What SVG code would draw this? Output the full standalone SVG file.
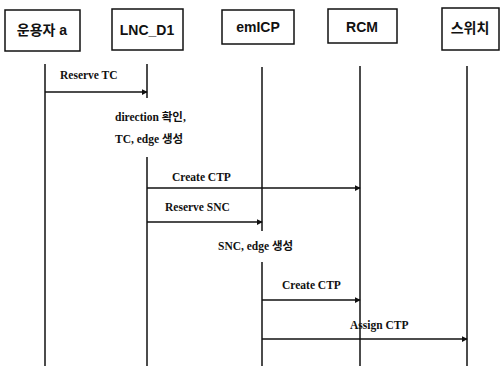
<svg xmlns="http://www.w3.org/2000/svg" width="500" height="366" viewBox="0 0 500 366">
<style>
.box{fill:#fff;stroke:#111;stroke-width:1.5}
.nt{font-family:"Liberation Sans","Noto Sans CJK KR",sans-serif;font-size:14px;font-weight:bold;fill:#111;text-anchor:middle;dominant-baseline:central}
.life{stroke:#111;stroke-width:1.5;fill:none}
.msg{stroke:#111;stroke-width:1.5;fill:none;marker-end:url(#ah)}
.lb{font-family:"Liberation Serif","Noto Sans CJK KR",serif;font-size:11.5px;font-weight:bold;fill:#111}
</style>
<defs>
<marker id="ah" viewBox="0 0 8 8" refX="7" refY="4" markerWidth="6" markerHeight="6" markerUnits="userSpaceOnUse" orient="auto">
<path d="M0,0 L8,4 L0,8 z" fill="#111"/>
</marker>
</defs>
<rect width="500" height="366" fill="#fff"/>
<g id="node-user">
<rect class="box" x="5" y="10" width="75" height="41"/>
<text class="nt" x="42" y="30">운용자 a</text>
</g>
<g id="node-lnc">
<rect class="box" x="112" y="9" width="71" height="41"/>
<text class="nt" x="147" y="30">LNC_D1</text>
</g>
<g id="node-emicp">
<rect class="box" x="222" y="10" width="72" height="34"/>
<text class="nt" x="258" y="27">emICP</text>
</g>
<g id="node-rcm">
<rect class="box" x="328" y="9" width="69" height="34"/>
<text class="nt" x="362" y="27">RCM</text>
</g>
<g id="node-switch">
<rect class="box" x="442" y="8" width="57" height="42"/>
<text class="nt" x="470" y="28">스위치</text>
</g>
<g id="connectors">
<line class="life" x1="45" y1="64" x2="45" y2="366"/>
<line class="life" x1="147" y1="64" x2="147" y2="98"/>
<line class="life" x1="147" y1="157" x2="147" y2="366"/>
<line class="life" x1="262" y1="67" x2="262" y2="231"/>
<line class="life" x1="262" y1="262" x2="262" y2="366"/>
<line class="life" x1="360" y1="66" x2="360" y2="366"/>
<line class="life" x1="467" y1="66" x2="467" y2="366"/>
<line class="msg" x1="45" y1="92" x2="147" y2="92"/>
<line class="msg" x1="147" y1="188" x2="360" y2="188"/>
<line class="msg" x1="147" y1="222" x2="262" y2="222"/>
<line class="msg" x1="262" y1="300" x2="360" y2="300"/>
<line class="msg" x1="262" y1="339" x2="467" y2="339"/>
</g>
<g id="labels">
<text class="lb" x="60" y="79">Reserve TC</text>
<text class="lb" x="115" y="121">direction 확인,</text>
<text class="lb" x="115" y="143">TC, edge 생성</text>
<text class="lb" x="172" y="181">Create CTP</text>
<text class="lb" x="165" y="211">Reserve SNC</text>
<text class="lb" x="218" y="250">SNC, edge 생성</text>
<text class="lb" x="282" y="289">Create CTP</text>
<text class="lb" x="350" y="329">Assign CTP</text>
</g>
</svg>
